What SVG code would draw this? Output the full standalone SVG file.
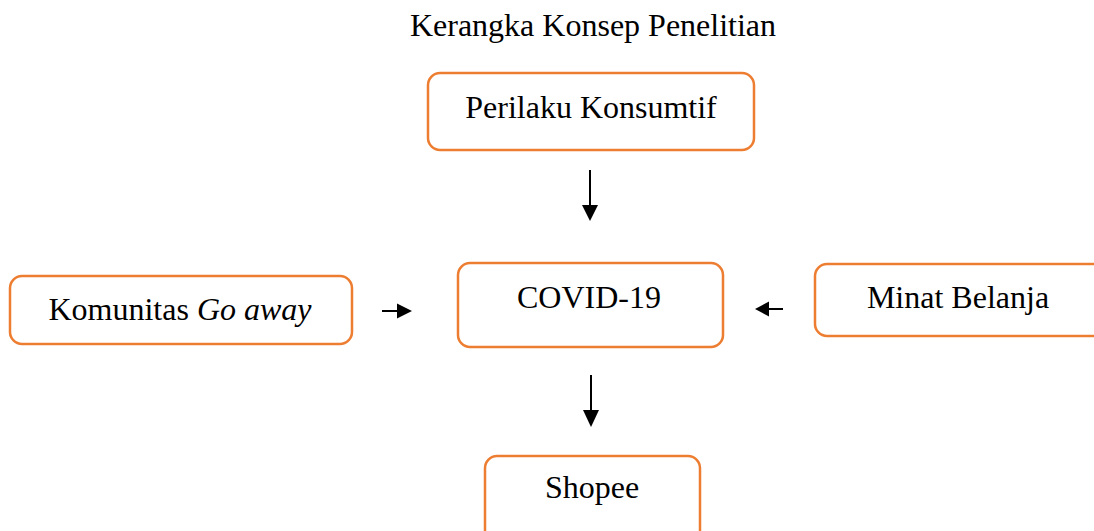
<svg xmlns="http://www.w3.org/2000/svg" width="1094" height="531" viewBox="0 0 1094 531">
<style>
.box{fill:#fff;stroke:#ED7D31;stroke-width:2.5}
.t{font-family:"Liberation Serif","Times New Roman",serif;font-size:32px;fill:#000;text-anchor:middle}
.c{stroke:#000;stroke-width:2;fill:none}
.h{fill:#000}
</style>
<rect width="1094" height="531" fill="#fff"/>
<text class="t" x="593" y="36">Kerangka Konsep Penelitian</text>
<g id="n-perilaku"><rect class="box" x="428" y="73" width="326" height="77" rx="12"/><text class="t" x="591" y="118">Perilaku Konsumtif</text></g>
<g id="n-komunitas"><rect class="box" x="10" y="276" width="342" height="68" rx="12"/><text class="t" x="180" y="320">Komunitas <tspan font-style="italic">Go away</tspan></text></g>
<g id="n-covid"><rect class="box" x="458" y="263" width="265" height="84" rx="12"/><text class="t" x="589" y="308">COVID-19</text></g>
<g id="n-minat"><rect class="box" x="815" y="264" width="300" height="72" rx="12"/><text class="t" x="958" y="308">Minat Belanja</text></g>
<g id="n-shopee"><rect class="box" x="485" y="456" width="215" height="100" rx="12"/><text class="t" x="592" y="498">Shopee</text></g>
<g id="connectors">
<line class="c" x1="590" y1="170" x2="590" y2="206"/><polygon class="h" points="582,205 598,205 590,221"/>
<line class="c" x1="591" y1="375" x2="591" y2="411"/><polygon class="h" points="583,410 599,410 591,427"/>
<line class="c" x1="382" y1="311" x2="398" y2="311"/><polygon class="h" points="397,303.5 397,318.5 412,311"/>
<line class="c" x1="768" y1="309" x2="783" y2="309"/><polygon class="h" points="769,301.5 769,316.5 755,309"/>
</g>
</svg>
